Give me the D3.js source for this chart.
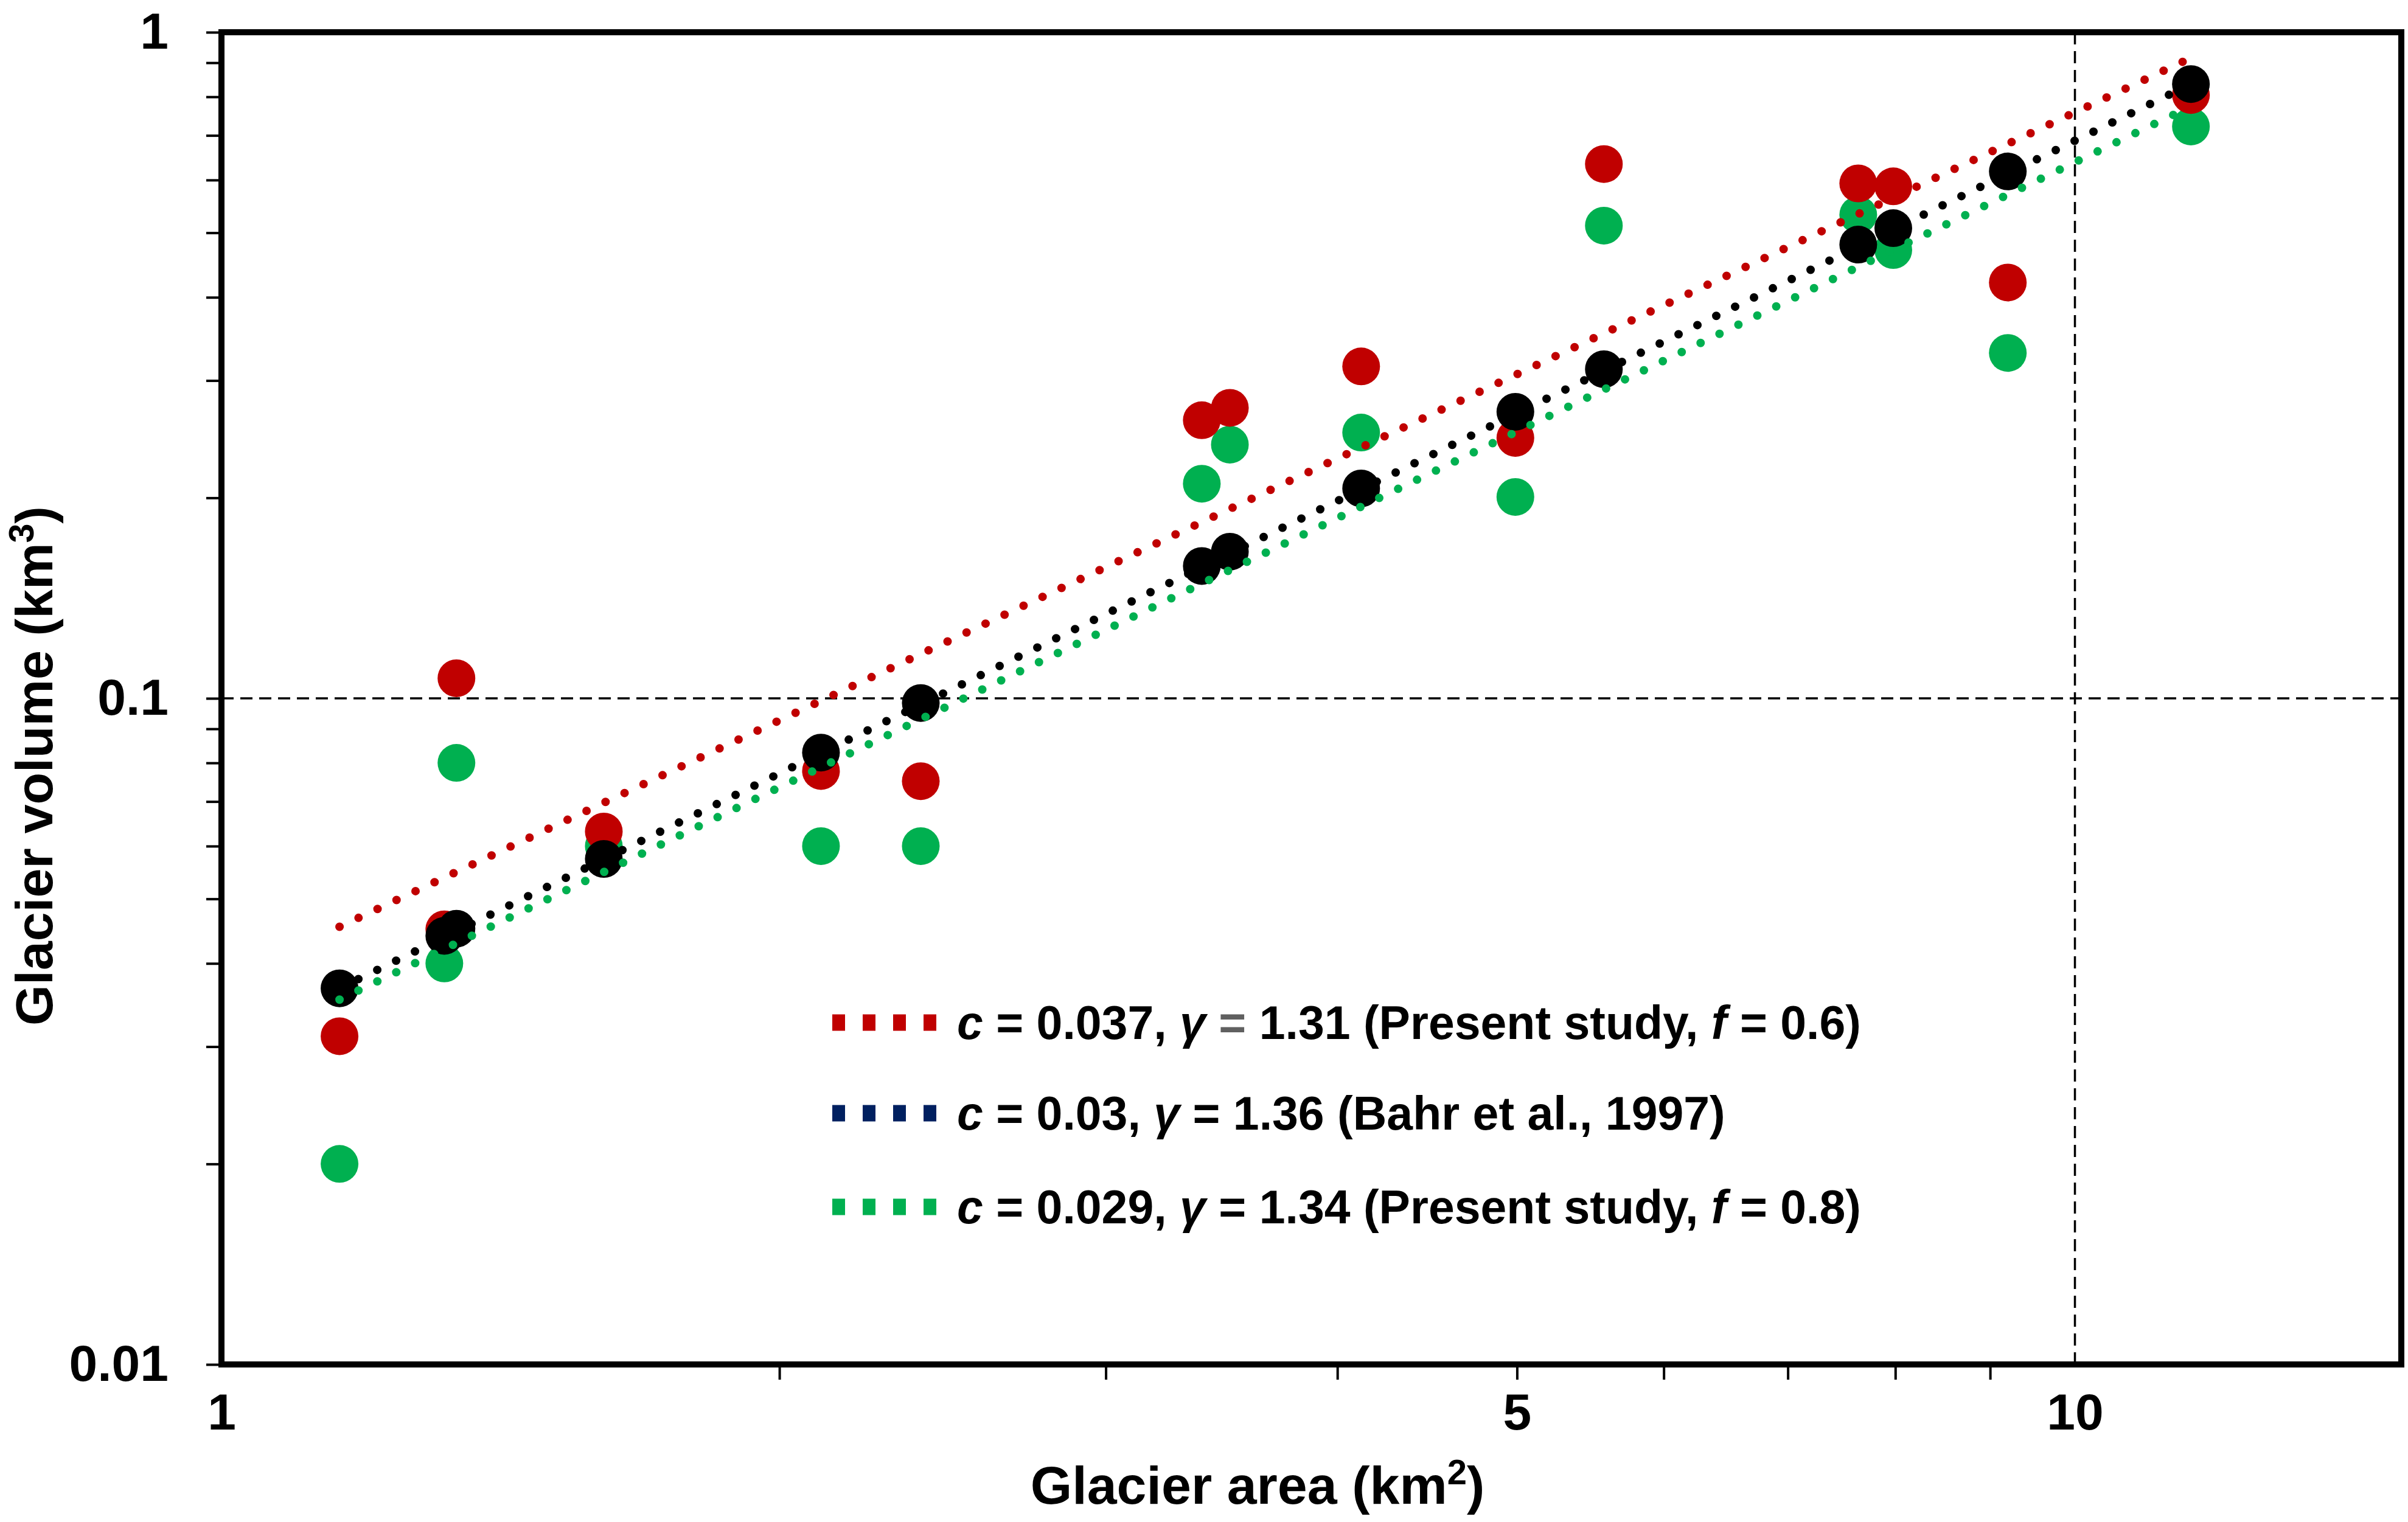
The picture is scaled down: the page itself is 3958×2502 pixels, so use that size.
<!DOCTYPE html>
<html>
<head>
<meta charset="utf-8">
<script src="https://cdn.jsdelivr.net/npm/d3@7"></script>
<style>
  html, body { margin: 0; padding: 0; background: #fff; }
  svg text { font-family: "Liberation Sans", Arial, sans-serif; font-weight: bold; fill: #000; }
</style>
</head>
<body>
<div id="chart"></div>
<script>
// glacier areas (km2)
var areas = [1.158, 1.319, 1.339, 1.608, 2.106, 2.384, 3.38, 3.5, 4.12, 4.99, 5.57, 7.64, 7.98, 9.2, 11.55]
// volumes (km3): Bahr et al. scaling, present study f = 0.6, present study f = 0.8
var volBahr = [0.0367, 0.0440, 0.0451, 0.0574, 0.0829, 0.0984, 0.158, 0.166, 0.2066, 0.2693, 0.312, 0.480, 0.508, 0.618, 0.836]
var volF06 = [0.0311, 0.0450, 0.1072, 0.0631, 0.0778, 0.0751, 0.2615, 0.273, 0.315, 0.246, 0.634, 0.593, 0.587, 0.421, 0.805]
var volF08 = [0.020, 0.040, 0.080, 0.060, 0.060, 0.060, 0.210, 0.2404, 0.2506, 0.2006, 0.5125, 0.532, 0.471, 0.330, 0.722]

// fitted power laws V = c A^gamma (legend) and the ends of their dotted lines
var fitNames = ['f06', 'bahr', 'f08']
var fitC = ['0.037', '0.03', '0.029']
var fitGamma = ['1.31', '1.36', '1.34']
var fitSource = ['Present study, ', 'Bahr et al., 1997', 'Present study, ']
var fitF = ['0.6', null, '0.8']
var fitStartVol = [0.0454, 0.0367, 0.0353]
var fitEndVol = [0.915, 0.836, 0.774]

var xTickMarks = [2, 3, 4, 5, 6, 7, 8, 9]
var xTickLabels = [1, 5, 10]
var yTickLabels = [1, 0.1, 0.01]

var W = 3958, H = 2502
var plot = {left: 364, right: 3947, top: 53, bottom: 2243}
var colors = {f06: '#C00000', f08: '#00B050', bahr: '#000000', bahrKey: '#002060'}

var svg = d3.select('#chart').append('svg')
	.attr('width', W).attr('height', H)
	.style('display', 'block')
svg.append('rect').attr('width', W).attr('height', H).attr('fill', '#fff')

var x = d3.scaleLog().domain([1, 15]).range([plot.left, plot.right])
var y = d3.scaleLog().domain([0.01, 1]).range([plot.bottom, plot.top])

// y ticks: 1..9 in every decade
var yMinor = []
;[0.01, 0.1].forEach(function(dec) {
	for (var k = 1; k <= 9; k++) yMinor.push(+(dec * k).toFixed(3))
})
yMinor.push(1)

var yTicks = svg.append('g').attr('transform', 'translate(' + plot.left + ',0)')
	.call(d3.axisLeft(y).tickValues(yMinor).tickSize(25).tickFormat(''))
yTicks.select('.domain').remove()
yTicks.selectAll('line').attr('stroke', '#000').attr('stroke-width', 4)

var yLab = svg.append('g').attr('transform', 'translate(' + plot.left + ',0)')
	.call(d3.axisLeft(y).tickValues(yTickLabels).tickSize(0).tickPadding(87)
		.tickFormat(function(d) { return d3.format('')(d) }))
yLab.select('.domain').remove()
yLab.selectAll('text').style('font-size', '84px').attr('fill', '#000')

var xTicks = svg.append('g').attr('transform', 'translate(0,' + plot.bottom + ')')
	.call(d3.axisBottom(x).tickValues(xTickMarks).tickSize(25).tickFormat(''))
xTicks.select('.domain').remove()
xTicks.selectAll('line').attr('stroke', '#000').attr('stroke-width', 4)

var xLab = svg.append('g').attr('transform', 'translate(0,' + plot.bottom + ')')
	.call(d3.axisBottom(x).tickValues(xTickLabels).tickSize(0).tickPadding(47)
		.tickFormat(function(d) { return String(d) }))
xLab.select('.domain').remove()
xLab.selectAll('text').style('font-size', '84px').attr('fill', '#000')

// dashed reference lines at V = 0.1 and A = 10
svg.append('line')
	.attr('x1', plot.left).attr('x2', plot.right)
	.attr('y1', y(0.1)).attr('y2', y(0.1))
	.attr('stroke', '#000').attr('stroke-width', 3.5).attr('stroke-dasharray', '20 11')
svg.append('line')
	.attr('x1', x(10)).attr('x2', x(10))
	.attr('y1', plot.top).attr('y2', plot.bottom)
	.attr('stroke', '#000').attr('stroke-width', 3.5).attr('stroke-dasharray', '20 11')

// scatter points
var series = [
	{key: 'f08', vals: volF08},
	{key: 'f06', vals: volF06},
	{key: 'bahr', vals: volBahr}
]
series.forEach(function(s) {
	svg.append('g').selectAll('circle')
		.data(areas.map(function(a, i) { return [a, s.vals[i]] }))
		.enter().append('circle')
		.attr('cx', function(d) { return x(d[0]) })
		.attr('cy', function(d) { return y(d[1]) })
		.attr('r', 31)
		.attr('fill', colors[s.key])
})

// dotted fit lines, drawn over the points
var line = d3.line().x(function(d) { return x(d[0]) }).y(function(d) { return y(d[1]) })
var aMin = d3.min(areas), aMax = d3.max(areas)
fitNames.forEach(function(name, i) {
	svg.append('path')
		.datum([[aMin, fitStartVol[i]], [aMax, fitEndVol[i]]])
		.attr('d', line)
		.attr('fill', 'none')
		.attr('stroke', colors[name])
		.attr('stroke-width', 14)
		.attr('stroke-linecap', 'round')
		.attr('stroke-dasharray', '0 34.5')
})

// frame
svg.append('rect')
	.attr('x', plot.left).attr('y', plot.top)
	.attr('width', plot.right - plot.left).attr('height', plot.bottom - plot.top)
	.attr('fill', 'none').attr('stroke', '#000').attr('stroke-width', 10)

// legend
var legendY = [1681, 1830, 1984]
var keyColors = [colors.f06, colors.bahrKey, colors.f08]
fitNames.forEach(function(name, i) {
	svg.append('line')
		.attr('x1', 1368).attr('x2', 1540)
		.attr('y1', legendY[i]).attr('y2', legendY[i])
		.attr('stroke', keyColors[i]).attr('stroke-width', 27)
		.attr('stroke-dasharray', '21 29')

	var t = svg.append('text')
		.attr('x', 1573).attr('y', legendY[i] + 27)
		.style('font-size', '77px')
	t.append('tspan').style('font-style', 'italic').text('c')
	t.append('tspan').text(' = ' + fitC[i] + ', ')
	t.append('tspan').style('font-style', 'italic').text('γ')
	t.append('tspan').text(' ')
	t.append('tspan').attr('fill', i == 0 ? '#606060' : '#000').text('=')
	t.append('tspan').text(' ' + fitGamma[i] + ' (' + fitSource[i])
	if (fitF[i] != null) {
		t.append('tspan').style('font-style', 'italic').text('f')
		t.append('tspan').text(' = ' + fitF[i])
	}
	t.append('tspan').text(')')
})

// axis titles
var xt = svg.append('text')
	.attr('x', 2067).attr('y', 2472)
	.attr('text-anchor', 'middle')
	.style('font-size', '88px')
xt.append('tspan').text('Glacier area (km')
xt.append('tspan').attr('dy', -32).style('font-size', '58px').text('2')
xt.append('tspan').attr('dy', 32).text(')')

var yt = svg.append('text')
	.attr('transform', 'translate(86,1259) rotate(-90)')
	.attr('text-anchor', 'middle')
	.style('font-size', '86px')
yt.append('tspan').text('Glacier volume (km')
yt.append('tspan').attr('dy', -31).style('font-size', '57px').text('3')
yt.append('tspan').attr('dy', 31).text(')')
</script>
</body>
</html>
